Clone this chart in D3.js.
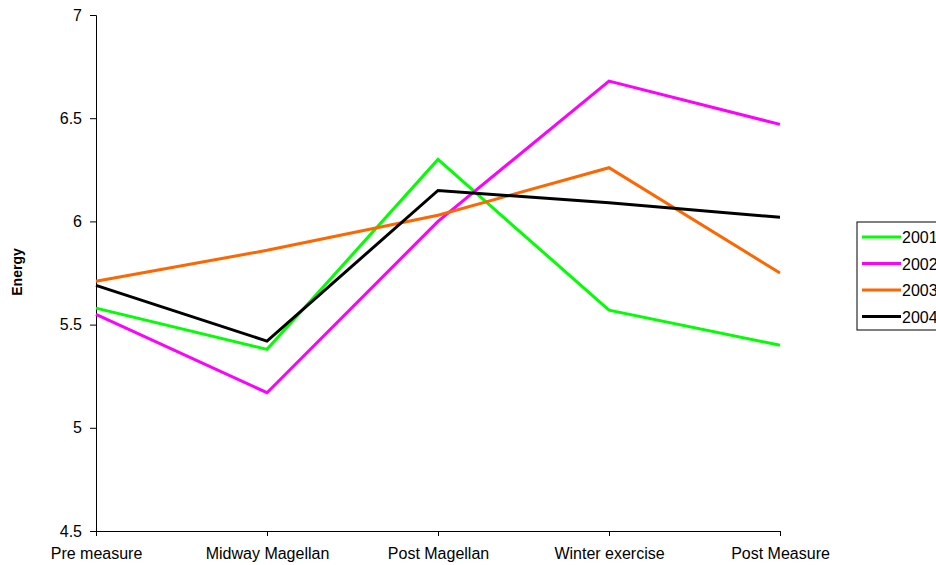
<!DOCTYPE html>
<html>
<head>
<meta charset="utf-8">
<script src="https://cdn.jsdelivr.net/npm/d3@7"></script>
<style>
  html, body { margin: 0; padding: 0; background: #fff; }
  svg { display: block; font-family: "Liberation Sans", Arial, sans-serif; }
</style>
</head>
<body>
<svg id="chart" width="936" height="565"></svg>
<script>
// Measurement phases along the x axis
const categories = ["Pre measure", "Midway Magellan", "Post Magellan", "Winter exercise", "Post Measure"];

// Energy per year across the phases
const s2001 = [5.58, 5.38, 6.30, 5.57, 5.40];
const s2002 = [5.55, 5.17, 6.00, 6.68, 6.47];
const s2003 = [5.71, 5.86, 6.03, 6.26, 5.75];
const s2004 = [5.69, 5.42, 6.15, 6.09, 6.02];

const seriesNames = ["2001", "2002", "2003", "2004"];
const seriesColors = ["#00ff00", "#ff00ff", "#ff6600", "#000000"];
const yTicks = [4.5, 5, 5.5, 6, 6.5, 7];

const series = [s2001, s2002, s2003, s2004].map((values, i) => ({
  name: seriesNames[i], color: seriesColors[i], values
}));

const svg = d3.select("#chart");
const plot = { left: 96, right: 780, top: 15, bottom: 531 };
const font = "Liberation Sans, Arial, sans-serif";

const x = d3.scalePoint().domain(categories).range([plot.left, plot.right]);
const y = d3.scaleLinear().domain([4.5, 7]).range([plot.bottom, plot.top]);

// Y axis
const yAxis = svg.append("g")
  .attr("transform", `translate(${plot.left},0)`)
  .call(d3.axisLeft(y).tickValues(yTicks).tickFormat(d3.format("")).tickSize(6).tickPadding(8));
yAxis.selectAll("text").attr("font-size", 16).attr("fill", "#000").attr("font-family", font);
yAxis.select(".domain").attr("stroke", "#000");
yAxis.selectAll("line").attr("stroke", "#000");

// X axis
const xAxis = svg.append("g")
  .attr("transform", `translate(0,${plot.bottom})`)
  .call(d3.axisBottom(x).tickSize(5).tickSizeOuter(0).tickPadding(12));
xAxis.selectAll("text").attr("font-size", 16).attr("fill", "#000").attr("font-family", font);
xAxis.select(".domain").attr("stroke", "#000");
xAxis.selectAll("line").attr("stroke", "#000");

// Y axis title
svg.append("text")
  .attr("transform", `translate(22,272) rotate(-90)`)
  .attr("text-anchor", "middle")
  .attr("font-size", 14)
  .attr("font-weight", "bold")
  .attr("font-family", font)
  .text("Energy");

// Lines
const line = d3.line()
  .x((d, i) => x(categories[i]))
  .y(d => y(d));

svg.append("g").selectAll("path")
  .data(series)
  .join("path")
  .attr("fill", "none")
  .attr("stroke", d => d.color)
  .attr("stroke-width", 3)
  .attr("stroke-linejoin", "miter")
  .attr("d", d => line(d.values));

// Legend
const legend = svg.append("g").attr("transform", "translate(857,222)");
legend.append("rect")
  .attr("x", 0).attr("y", 0).attr("width", 90).attr("height", 108)
  .attr("fill", "#fff").attr("stroke", "#000").attr("stroke-width", 1);
series.forEach((s, i) => {
  const cy = 15 + i * 26.5;
  legend.append("line")
    .attr("x1", 5).attr("x2", 44).attr("y1", cy).attr("y2", cy)
    .attr("stroke", s.color).attr("stroke-width", 3);
  legend.append("text")
    .attr("x", 45).attr("y", cy + 6)
    .attr("font-size", 16)
    .attr("font-family", font)
    .text(s.name);
});
</script>
</body>
</html>
